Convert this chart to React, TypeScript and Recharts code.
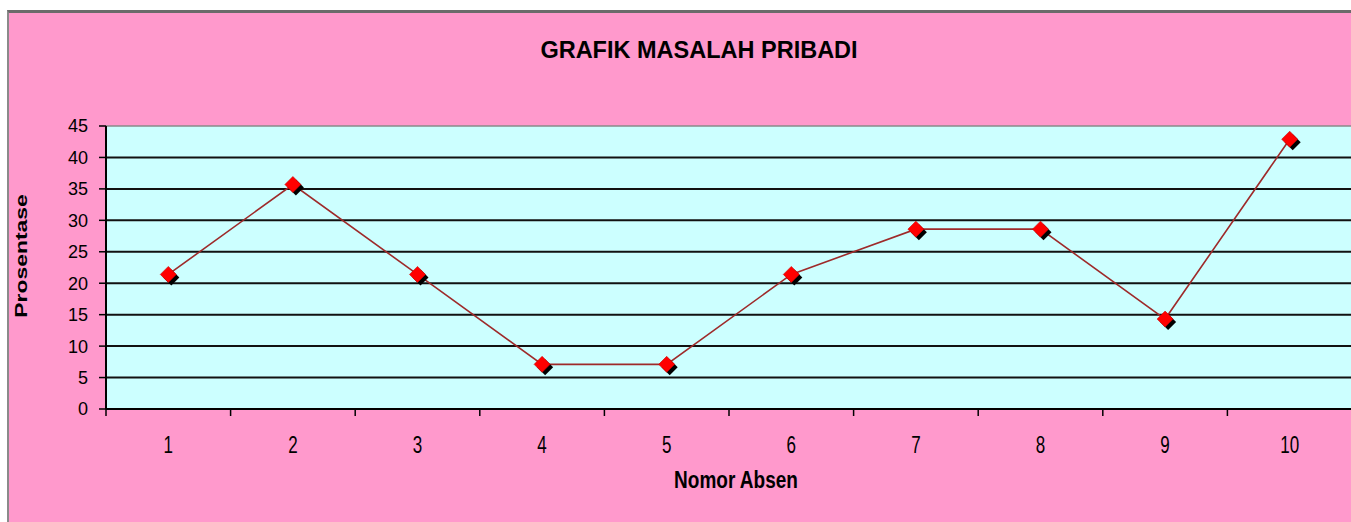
import React from 'react';
import { LineChart, Line, XAxis, YAxis, CartesianGrid, ReferenceLine } from 'recharts';

const nomorAbsen = [1, 2, 3, 4, 5, 6, 7, 8, 9, 10];
const nomorLabels = ['1', '2', '3', '4', '5', '6', '7', '8', '9', '10'];
const prosentase = [21.4, 35.7, 21.4, 7.1, 7.1, 21.4, 28.6, 28.6, 14.3, 42.9];
const yTicks = [0, 5, 10, 15, 20, 25, 30, 35, 40, 45];
const gridValues = [5, 10, 15, 20, 25, 30, 35, 40];
const titleText = 'GRAFIK MASALAH PRIBADI';
const xTitle = 'Nomor Absen';
const yTitle = 'Prosentase';

const FONT = "Arial, 'Liberation Sans', sans-serif";

const data = nomorAbsen.map((n, i) => ({ nomor: n, prosentase: prosentase[i] }));
const xTicks: number[] = [];
nomorAbsen.forEach((n) => {
  xTicks.push(n - 0.5);
  xTicks.push(n);
});
xTicks.push(nomorAbsen[nomorAbsen.length - 1] + 0.5);

const XTick = (props: any) => {
  const { x, y, payload } = props;
  const v = payload.value;
  if (Number.isInteger(v)) {
    const idx = nomorAbsen.indexOf(v);
    return (
      <g transform={`translate(${x},${y + 44})`}>
        <text transform="scale(1,1.4)" textAnchor="middle" fontSize={17} fontFamily={FONT} fill="#000">
          {nomorLabels[idx]}
        </text>
      </g>
    );
  }
  return <line x1={x} x2={x} y1={y} y2={y + 7} stroke="#000" strokeWidth={1.5} />;
};

const Diamond = (props: any) => {
  const { cx, cy } = props;
  if (cx == null || cy == null) return <g />;
  const r = 8;
  const d = (x: number, y: number) => `M${x},${y - r} L${x + r},${y} L${x},${y + r} L${x - r},${y} Z`;
  return (
    <g>
      <path d={d(cx + 3, cy + 3)} fill="#000" />
      <path d={d(cx, cy)} fill="#FF0000" stroke="#D00000" strokeWidth={0.6} />
    </g>
  );
};

export default function App() {
  return (
    <div style={{ position: 'absolute', left: 0, top: 0, width: 1351, height: 522, overflow: 'hidden', background: '#fff' }}>
      <div
        style={{
          position: 'absolute',
          left: 7,
          top: 10,
          width: 1400,
          height: 600,
          background: '#FF99CC',
          borderTop: '3px solid #6b6b6b',
          borderLeft: '2px solid #8a8a8a',
          boxSizing: 'border-box',
        }}
      />
      <div style={{ position: 'absolute', left: 0, top: 0 }}>
        <LineChart width={1360} height={522} data={data} margin={{ top: 126, right: 8, bottom: 83, left: 0 }}>
          <CartesianGrid horizontal={false} vertical={false} fill="#CCFFFF" fillOpacity={1} stroke="none" />
          {gridValues.map((g) => (
            <ReferenceLine key={g} y={g} stroke="#111" strokeWidth={2} />
          ))}
          <ReferenceLine y={45} stroke="#8a8a8a" strokeWidth={1.5} />
          <XAxis
            dataKey="nomor"
            type="number"
            domain={[0.5, 10.5]}
            ticks={xTicks}
            interval={0}
            height={30}
            tickSize={0}
            tickMargin={0}
            tickLine={false}
            axisLine={{ stroke: '#000', strokeWidth: 2 }}
            tick={<XTick />}
          />
          <YAxis
            type="number"
            domain={[0, 45]}
            ticks={yTicks}
            interval={0}
            width={106}
            tickSize={7}
            tickMargin={11}
            tickLine={{ stroke: '#000', strokeWidth: 1.5 }}
            axisLine={{ stroke: '#000', strokeWidth: 2 }}
            tick={{ fill: '#000', fontSize: 18, fontFamily: FONT }}
          />
          <Line
            type="linear"
            dataKey="prosentase"
            stroke="#9E2A2A"
            strokeWidth={1.6}
            dot={(p: any) => <Diamond key={`dot-${p.index}`} {...p} />}
            activeDot={false}
            isAnimationActive={false}
          />
        </LineChart>
      </div>
      <svg width={1351} height={522} style={{ position: 'absolute', left: 0, top: 0, pointerEvents: 'none' }}>
        <text x={699} y={58} textAnchor="middle" fontSize={23.5} fontWeight="bold" fontFamily={FONT} fill="#000">
          {titleText}
        </text>
        <g transform="translate(736,488)">
          <text transform="scale(1,1.25)" textAnchor="middle" fontSize={19} fontWeight="bold" fontFamily={FONT} fill="#000">
            {xTitle}
          </text>
        </g>
        <g transform="translate(27,256) rotate(-90)">
          <text transform="scale(1.35,1)" textAnchor="middle" fontSize={17} fontWeight="bold" fontFamily={FONT} fill="#000">
            {yTitle}
          </text>
        </g>
      </svg>
    </div>
  );
}
